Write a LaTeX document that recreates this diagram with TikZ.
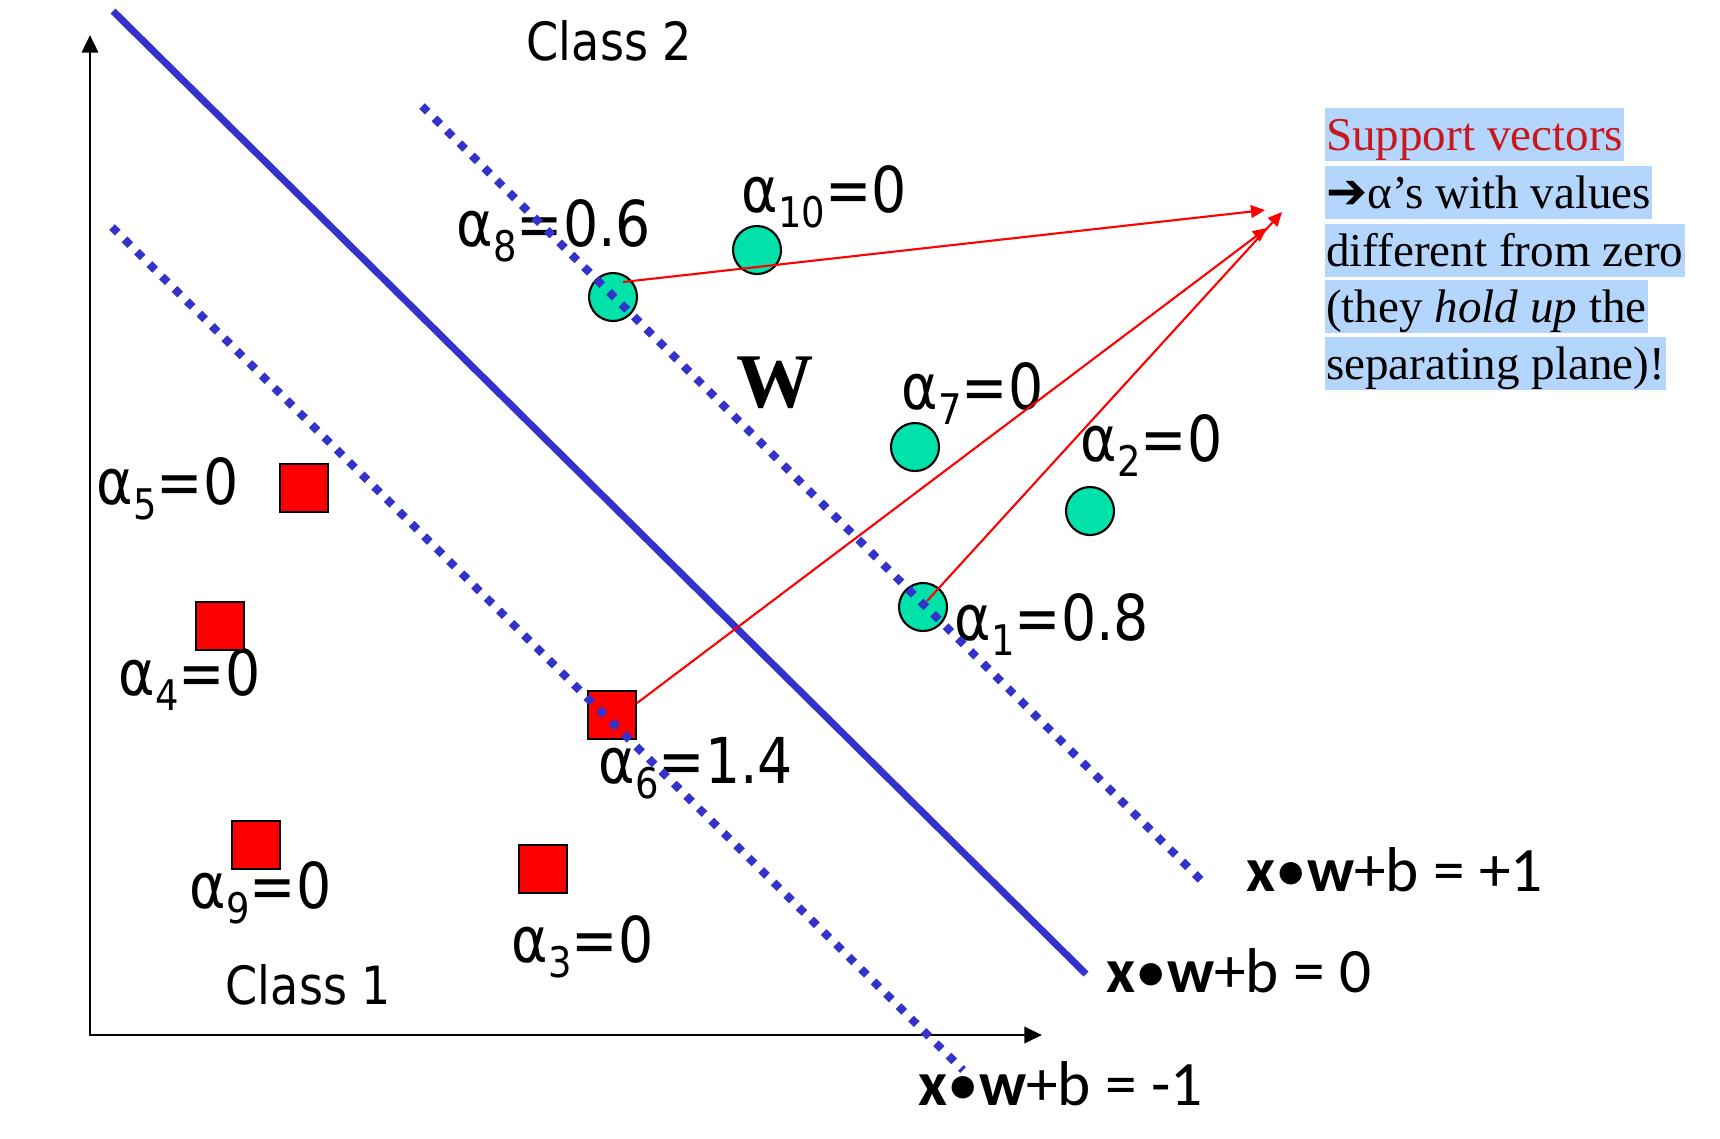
\documentclass[tikz,border=0pt]{standalone}
\usepackage{fontspec}
\setmainfont{Liberation Serif}
\newfontfamily\labfont[FakeStretch=0.875]{DejaVu Sans}
\newfontfamily\eqfont{Carlito}
\newfontfamily\arrfont{DejaVu Sans}
\usetikzlibrary{arrows.meta,calc}
\definecolor{svmblue}{RGB}{51,51,204}
\definecolor{ptgreen}{RGB}{0,226,170}
\definecolor{hlblue}{RGB}{180,214,252}
\definecolor{svred}{RGB}{200,24,30}
\newcommand\lsub[1]{\raisebox{-4.5pt}{\fontsize{12}{12}\selectfont #1}}
\begin{document}
\begin{tikzpicture}[x=0.1mm,y=-0.1mm,
  axis/.style={line width=0.8pt,{Triangle[length=5pt,width=4.6pt]}-{Triangle[length=5pt,width=4.6pt]}},
  hyper/.style={svmblue,line width=2pt},
  margin/.style={svmblue,line width=2.3pt,dash pattern=on 2.3pt off 2.7pt},
  pospt/.style={circle,draw=black,line width=0.6pt,fill=ptgreen,minimum size=4.8mm,inner sep=0},
  negpt/.style={rectangle,draw=black,line width=0.6pt,fill=red,minimum size=4.8mm,inner sep=0},
  alab/.style={anchor=base west,inner sep=0,font=\labfont\fontsize{18}{18}\selectfont},
  clab/.style={anchor=base west,inner sep=0,font=\labfont\fontsize{15}{15}\selectfont},
  eqlab/.style={anchor=base west,inner sep=0,font=\eqfont\fontsize{18}{18}\selectfont},
  hl/.style={anchor=base west,fill=hlblue,inner xsep=0.4pt,inner ysep=0,text height=4.2mm,text depth=1.05mm,font=\fontsize{13.4}{16}\selectfont},
  redarr/.style={red,line width=0.6pt,-{Triangle[length=4pt,width=3.6pt]}}
]
\useasboundingbox (0,0) rectangle (1720,1138);

% axes
\coordinate (O) at (90,1035);
\coordinate (ytip) at (90,35);
\coordinate (xtip) at (1042,1035);
\draw[axis] (ytip) -- (O) -- (xtip);

% separating hyperplane
\coordinate (h0a) at (113,11);
\coordinate (h0b) at (1086,974);
\draw[hyper] (h0a) -- (h0b);

% labels
\node[clab] (cl2) at (526,60) {Class 2};
\node[clab] (cl1) at (225,1004) {Class 1};
\node[alab] (l8) at (456,246) {α\lsub{8}=0.6};
\node[alab] (l10) at (741,212) {α\lsub{10}=0};
\node[alab] (l7) at (901,409) {α\lsub{7}=0};
\node[alab] (l2) at (1080,461) {α\lsub{2}=0};
\node[alab] (l1) at (954,640) {α\lsub{1}=0.8};
\node[alab] (l5) at (96,504) {α\lsub{5}=0};
\node[alab] (l4) at (118,695) {α\lsub{4}=0};
\node[alab] (l6) at (598,783) {α\lsub{6}=1.4};
\node[alab] (l9) at (189,908) {α\lsub{9}=0};
\node[alab] (l3) at (511,962) {α\lsub{3}=0};
\node[anchor=base west,inner sep=0,font=\bfseries\fontsize{22}{22}\selectfont] (W) at (736,407) {W};
\node[eqlab] (e1) at (1246,891) {{\bfseries x}•{\bfseries w}+b = +1};
\node[eqlab] (e0) at (1106,992) {{\bfseries x}•{\bfseries w}+b = 0};
\node[eqlab] (em) at (918,1105) {{\bfseries x}•{\bfseries w}+b = -1};

% points
\node[pospt] (c8) at (613,297) {};
\node[pospt] (c10) at (757,250) {};
\node[pospt] (c7) at (915,447) {};
\node[pospt] (c2) at (1090,511) {};
\node[pospt] (c1) at (923,607) {};
\node[negpt] (s5) at (304,488) {};
\node[negpt] (s4) at (220,626) {};
\node[negpt] (s6) at (612,715) {};
\node[negpt] (s9) at (256,845) {};
\node[negpt] (s3) at (543,869) {};

% margins
\coordinate (hpa) at (422,106);
\coordinate (hpb) at (1207,886);
\coordinate (hma) at (112,227);
\coordinate (hmb) at (963,1070);
\draw[margin] (hpa) -- (hpb);
\draw[margin] (hma) -- (hmb);

% text box
\node[hl] (t1) at (1324,150) {\color{svred}Support vectors};
\node[hl] (t2) at (1324,208) {{\arrfont\fontsize{14}{16}\selectfont ➔}α’s with values};
\node[hl] (t3) at (1324,266) {different from zero};
\node[hl] (t4) at (1324,322) {(they \textit{hold up} the};
\node[hl] (t5) at (1324,379) {separating plane)!};

% red arrows
\coordinate (tipA) at (1265,210);
\coordinate (tipB) at (1267,228);
\coordinate (tipC) at (1282,212);
\draw[redarr] ($(c8)+(10,-15)$) -- (tipA);
\draw[redarr] ($(s6.east)+(0,-12)$) -- (tipB);
\draw[redarr] ($(c1)+(4,-6)$) -- (tipC);
\end{tikzpicture}
\end{document}
